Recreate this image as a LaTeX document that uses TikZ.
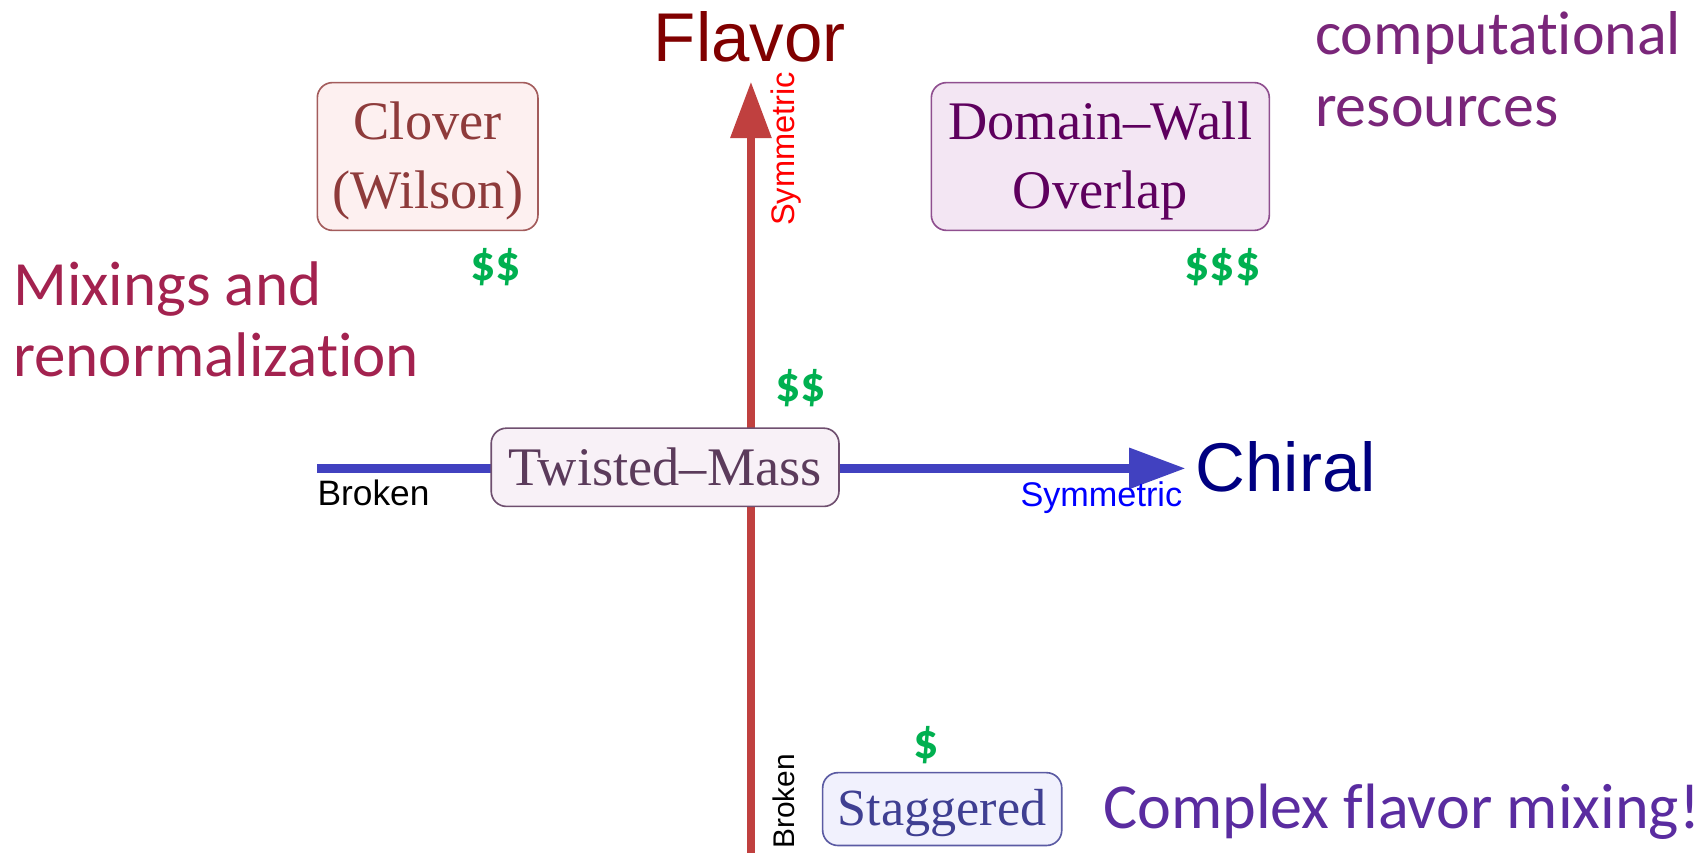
\documentclass[tikz,border=0pt]{standalone}
\usepackage{fontspec}
\setmainfont{Liberation Serif}
\newfontfamily\axisfont{Liberation Sans}
\newfontfamily\notefont[Ligatures=NoCommon]{Carlito}
\usetikzlibrary{arrows.meta}
\definecolor{clovfill}{HTML}{FDF0F0}
\definecolor{clovdraw}{HTML}{A35C5C}
\definecolor{clovtext}{HTML}{8E3B3B}
\definecolor{dwfill}{HTML}{F3E6F3}
\definecolor{dwdraw}{HTML}{8F4F8F}
\definecolor{dwtext}{HTML}{5E005E}
\definecolor{tmfill}{HTML}{F8F1F7}
\definecolor{tmdraw}{HTML}{6F4F6F}
\definecolor{tmtext}{HTML}{5B3B5B}
\definecolor{stfill}{HTML}{F1F1FD}
\definecolor{stdraw}{HTML}{5B5BA3}
\definecolor{sttext}{HTML}{3F3F92}
\definecolor{flavcol}{HTML}{C0403F}
\definecolor{chircol}{HTML}{4141C0}
\definecolor{flavtext}{HTML}{800000}
\definecolor{chirtext}{HTML}{000080}
\definecolor{costgreen}{HTML}{00B050}
\definecolor{compcol}{HTML}{7A267A}
\definecolor{mixcol}{HTML}{A3224F}
\definecolor{cplxcol}{HTML}{5A2CA0}
\newcommand\topstrut[1]{\rule{0pt}{#1}}
\begin{document}
\begin{tikzpicture}[x=1pt,y=-1pt,
  box/.style={draw, rounded corners=14pt, line width=1.5pt, inner sep=0pt, align=center,
    font=\fontsize{50}{64}\selectfont},
  note/.style={inner sep=0pt, font=\notefont\fontsize{58}{58}\selectfont},
  cost/.style={inner sep=0pt, text=costgreen, font=\notefont\bfseries\fontsize{46}{46}\selectfont},
  axlabel/.style={inner sep=0pt, font=\axisfont\fontsize{63.5}{63.5}\selectfont},
  endlabel/.style={inner sep=0pt, font=\axisfont\fontsize{30}{30}\selectfont},
  axis/.style={line width=8pt, -{Triangle[length=52pt,width=36pt]}}]
\useasboundingbox (0,0) rectangle (1568,784);
\clip (0,0) rectangle (1568,784);

% axes
\coordinate (fbot) at (691,795);
\coordinate (ftop) at (691,75);
\coordinate (cleft) at (292,431);
\coordinate (cright) at (1091,431);
\draw[axis, flavcol] (fbot) -- (ftop);
\draw[axis, chircol] (cleft) -- (cright);

% axis titles and end labels
\node[axlabel, text=flavtext, anchor=base] (flavor) at (690,57) {Flavor};
\node[axlabel, text=chirtext, anchor=base west] (chiral) at (1100,452) {Chiral};
\node[endlabel, text=red, rotate=90, anchor=base west] (fsym) at (731,208) {Symmetric};
\node[endlabel, text=black, rotate=90, anchor=base west, font=\axisfont\fontsize{27.5}{27.5}\selectfont]
  (fbrk) at (731,781) {Broken};
\node[endlabel, text=blue, anchor=base east, font=\axisfont\fontsize{31.5}{31.5}\selectfont]
  (csym) at (1088,466) {Symmetric};
\node[endlabel, text=black, anchor=base west, font=\axisfont\fontsize{32.5}{32.5}\selectfont]
  (cbrk) at (292,465) {Broken};

% discretizations
\node[box, fill=clovfill, draw=clovdraw, text=clovtext, minimum width=203pt, minimum height=136pt]
  (clover) at (393.5,144) {\topstrut{43pt}Clover\\(Wilson)};
\node[box, fill=dwfill, draw=dwdraw, text=dwtext, minimum width=311pt, minimum height=136pt]
  (dw) at (1012.5,144) {\topstrut{43pt}Domain--Wall\\Overlap};
\node[box, fill=tmfill, draw=tmdraw, text=tmtext, minimum width=320pt, minimum height=72pt]
  (tm) at (612,430) {Twisted--Mass};
\node[box, fill=stfill, draw=stdraw, text=sttext, minimum width=220pt, minimum height=67pt,
  font=\fontsize{48}{60}\selectfont] (st) at (867,744.5) {\topstrut{41pt}Staggered};

% costs
\node[cost] (cclover) at (456,246) {\$\$};
\node[cost] (cdw) at (1125,246) {\$\$\$};
\node[cost] (ctm) at (737,357) {\$\$};
\node[cost] (cst) at (852,686) {\$};

% remarks
\node[note, text=compcol, anchor=base west, font=\notefont\fontsize{57}{57}\selectfont]
  (comp1) at (1210,50) {computational};
\node[note, text=compcol, anchor=base west, font=\notefont\fontsize{57}{57}\selectfont]
  (comp2) at (1210,116) {resources};
\node[note, text=mixcol, anchor=base west] (mix1) at (12,281) {Mixings and};
\node[note, text=mixcol, anchor=base west] (mix2) at (12,346) {renormalization};
\node[note, text=cplxcol, anchor=base west, font=\notefont\fontsize{59}{59}\selectfont]
  (cplx) at (1015,762) {Complex flavor mixing!};
\end{tikzpicture}
\end{document}
